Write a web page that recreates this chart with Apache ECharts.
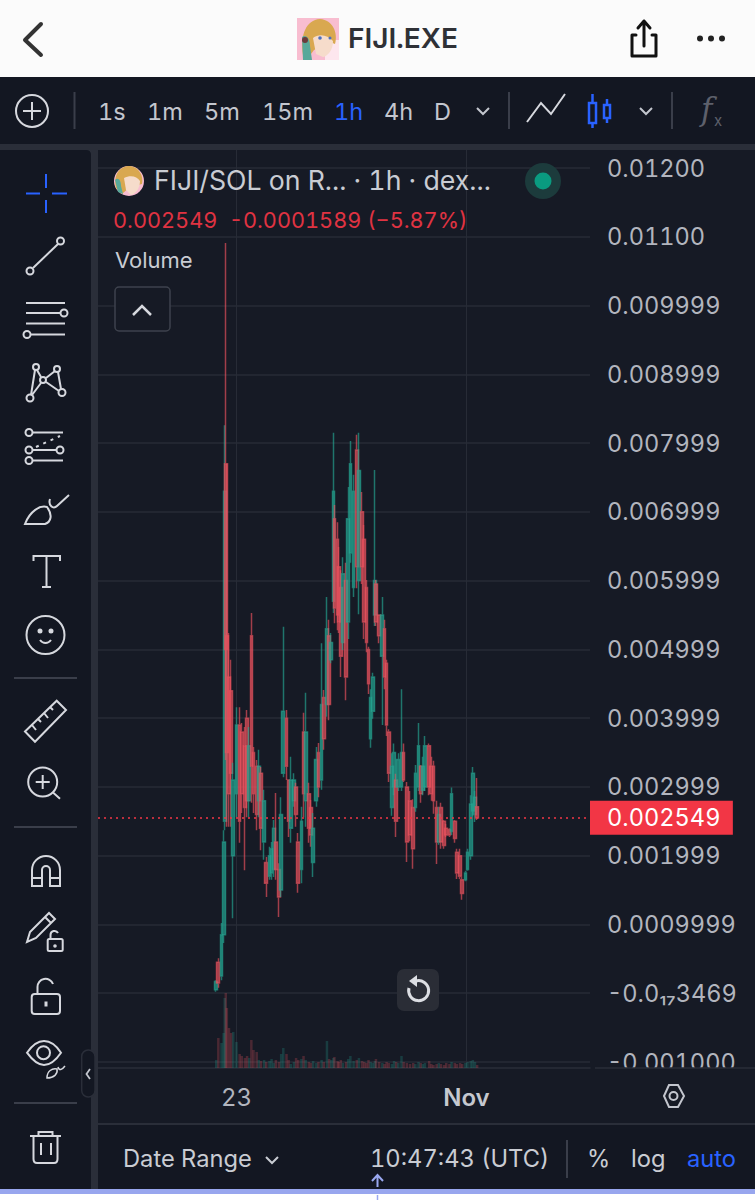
<!DOCTYPE html>
<html>
<head>
<meta charset="utf-8">
<title>FIJI/SOL</title>
<script src="https://cdn.jsdelivr.net/npm/echarts@6/dist/echarts.min.js"></script>
<style>
  html, body { margin: 0; padding: 0; background: #161a25; }
  #wrap { position: relative; width: 755px; height: 1200px; overflow: hidden; }
  #chart { position: absolute; left: 0; top: 0; width: 755px; height: 1200px; }
  #chrome { position: absolute; left: 0; top: 0; pointer-events: none; font-family: Inter, sans-serif; }
  text { font-variant-numeric: tabular-nums; font-feature-settings: "tnum"; }
</style>
</head>
<body>
<div id="wrap">
  <div id="chart"></div>
  <svg id="chrome" width="755" height="1200" viewBox="0 0 755 1200" fill="none">
    <!-- header -->
    <rect x="0" y="0" width="755" height="77" fill="#fbfbfb"/>
    <path d="M41 24 L25 40 L41 55" stroke="#333" stroke-width="4" stroke-linecap="round" stroke-linejoin="round"/>
    <rect x="297" y="18" width="42" height="42" fill="#f8bdd0"/>
    <rect x="325" y="40" width="14" height="20" fill="#fde6ee"/>
    <path d="M303 55 C300 35 306 20 320 19 C333 20 338 33 335 44 L330 42 L314 50 L308 58 Z" fill="#d9a850"/>
    <path d="M313 38 C319 33 328 35 333 41 C333 50 328 56 323 57 L316 54 Z" fill="#f6dccb"/>
    <circle cx="320" cy="38" r="1.800" fill="#4a6fc0"/><circle cx="330" cy="38" r="1.500" fill="#4a6fc0"/>
    <path d="M302 37 C306 34 310 38 310 46 L312 60 L303 60 Z" fill="#58a89a"/>
    <circle cx="305" cy="40" r="3" fill="#6b3b3b"/>
    <text x="348" y="48" font-size="27" font-weight="600" fill="#2f3136" textLength="110" lengthAdjust="spacingAndGlyphs">FIJI.EXE</text>
    <path d="M636 35 L632 35 L632 56 L656 56 L656 35 L652 35 M644 46 L644 21 M638 28 L644 21 L650 28" stroke="#111" stroke-width="3" stroke-linecap="round" stroke-linejoin="round"/>
    <circle cx="700" cy="38.500" r="3" fill="#222"/><circle cx="711" cy="38.500" r="3" fill="#222"/><circle cx="722" cy="38.500" r="3" fill="#222"/>

    <!-- top toolbar -->
    <rect x="0" y="77" width="755" height="68" fill="#131722"/>
    <rect x="0" y="144" width="755" height="6" fill="#2a2e39"/>
    <circle cx="32" cy="111" r="16" stroke="#d6d8de" stroke-width="2"/>
    <path d="M32 102 V120 M23 111 H41" stroke="#d6d8de" stroke-width="2"/>
    <path d="M74.500 92 V129 M509 92 V129 M672 92 V129" stroke="#3a3e4a" stroke-width="2"/>
    <g font-size="23.500" fill="#c3c6ce">
      <text x="98" y="120">1s</text>
      <text x="147" y="120">1m</text>
      <text x="204" y="120">5m</text>
      <text x="262" y="120">15m</text>
      <text x="334" y="120" fill="#2962ff">1h</text>
      <text x="384" y="120">4h</text>
      <text x="434" y="120">D</text>
    </g>
    <path d="M477 108 L483 114 L489 108 M640 108 L646 114 L652 108" stroke="#c3c6ce" stroke-width="2"/>
    <path d="M527 122 L541 103 L551 114 L565 94" stroke="#d6d8de" stroke-width="2"/>
    <g stroke="#2962ff" stroke-width="2.500">
      <rect x="589" y="103" width="7" height="20"/><path d="M592.500 94 V103 M592.500 123 V128"/>
      <rect x="604" y="105" width="6" height="13"/><path d="M607 99 V105 M607 118 V123"/>
    </g>
    <text x="701" y="120" font-size="31" font-style="italic" fill="#5d606b" font-family="'DejaVu Serif', serif">f</text>
    <text x="714" y="126" font-size="15" fill="#5d606b">x</text>

    <!-- left toolbar -->
    <rect x="0" y="150" width="98" height="1050" fill="#2a2e39"/>
    <path d="M0 150 H86 Q91 150 91 155 V1200 H0 Z" fill="#131722"/>
    <path d="M46 174 V188 M46 200 V213 M26 193.500 H40 M52 193.500 H67" stroke="#2962ff" stroke-width="2"/>
    <g stroke="#d6d8de" stroke-width="2">
      <circle cx="60.500" cy="241" r="3.500"/><circle cx="30" cy="271" r="3.500"/><path d="M33 268 L58 244"/>

      <path d="M26 303 H65 M26 313 H60 M26 323.500 H65 M31 334.500 H65"/><circle cx="64" cy="313" r="3.500"/><circle cx="27" cy="334.500" r="3.500"/>

      <circle cx="36" cy="367" r="3"/><circle cx="57" cy="369" r="3"/><circle cx="43" cy="380" r="3"/><circle cx="62" cy="392.500" r="3.500"/><circle cx="30" cy="398" r="3.500"/>
      <path d="M35 370 L31 395 M37 370 L41 377 M46 378 L55 371 M58 372 L61 389 M46 382 L59 391 M41 383 L32 395"/>

      <circle cx="29" cy="432.500" r="3.500"/><path d="M33 432.500 H63 M33 450 H56 M33 460.500 H63"/><circle cx="29" cy="450" r="3.500"/><circle cx="60" cy="450" r="3.500"/><circle cx="29" cy="460.500" r="3.500"/>
      <path d="M36 447 L60 436" stroke-dasharray="3 5"/>

      <path d="M25 524 C30 511 40 505 47 507 C53 515 51 522 45 524 Z M50 499 C48 505 53 510 57 506 L69 495"/>

      <path d="M33.500 561 V556 H60 V561 M46.500 556 V587 M42 587 H51"/>

      <circle cx="45.500" cy="635" r="19"/><circle cx="40" cy="631" r="1.500" fill="#d6d8de"/><circle cx="51" cy="631" r="1.500" fill="#d6d8de"/><path d="M40 640 C43 644 48 644 51 640"/>

      <path d="M14 678 H77 M14 827 H77 M14 1103 H77" stroke="#3a3e4a"/>

      <path d="M25 731.500 L56.700 700.700 L66 710 L35 741.700 Z M32 725 L36 730 M38 719 L41 722 M44 713 L48 718 M50 707 L53 710"/>

      <circle cx="42.700" cy="782" r="14.500"/><path d="M53 792.500 L60 798.700 M42.700 775 V789 M35.700 782 H49.700"/>

      <path d="M32 886 V870 A14 14 0 0 1 60 870 V886 H50 V870 A4 4 0 0 0 42 870 V886 Z M32 878 H42 M50 878 H60"/>

      <path d="M27 942 L30 932 L49 913 L55 919 L36 938 Z M45 917 L51 923"/>
      <rect x="47.700" y="939" width="15" height="12" rx="1.500"/><path d="M50.500 939 V935 A4 4 0 0 1 58 933"/><circle cx="55" cy="946" r="0.800" fill="#d6d8de"/>

      <rect x="31.700" y="994" width="28.300" height="20" rx="3"/><path d="M37.500 994 V987 A8 8 0 0 1 53 984"/><path d="M46 1001.500 V1006.500" stroke-width="3"/>

      <path d="M27 1052.700 C33 1044 38 1041 44 1041 C50 1041 56 1045 61 1052.700 C56 1060 50 1065 44 1065 C38 1065 33 1061 27 1052.700 Z"/><circle cx="43.500" cy="1052.700" r="6.500"/>
      <path d="M47 1078 C47 1071 52 1068 57 1069 C58 1074 54 1078 47 1078 Z M58 1067 C59 1071 62 1070 65 1066" stroke-width="1.500"/>

      <path d="M30 1136 H61 M38.500 1136 V1132 H52.500 V1136 M33.500 1136 V1159 Q33.500 1163 37 1163 H54 Q57.500 1163 57.500 1159 V1136 M41 1143 V1155 M51 1143 V1155"/>
    </g>
    <rect x="81.700" y="1050" width="13.300" height="47" rx="6.500" fill="#131722" stroke="#2a2e39" stroke-width="1.500"/>
    <path d="M90 1069 L86.500 1074 L90 1079" stroke="#c3c6ce" stroke-width="1.800"/>

    <!-- legend over the pane -->
    <circle cx="129" cy="181" r="15" fill="#f8bdd0"/>
    <path d="M116 188 C113 174 120 166 130 166 C139 167 144 176 142 184 L130 187 L122 194 Z" fill="#d9a850"/>
    <path d="M124 178 C130 175 137 176 140 181 C140 189 135 194 131 195 L126 190 Z" fill="#f6dccb"/>
    <path d="M115 180 C118 177 121 180 121 186 L123 194 L118 192 Z" fill="#58a89a"/>
    <text x="154" y="190" font-size="26.700" fill="#c9ccd3">FIJI/SOL on R... · 1h · dex...</text>
    <circle cx="543" cy="181" r="18" fill="#1c3b3c"/>
    <circle cx="543" cy="181" r="8.500" fill="#0a9b80"/>
    <text x="113" y="228" font-size="21.700" fill="#e03342" xml:space="preserve">0.002549  -0.0001589 (−5.87%)</text>
    <text x="115" y="268" font-size="22" fill="#c9ccd3">Volume</text>
    <rect x="115" y="287" width="55" height="44" rx="4" fill="#161a25" stroke="#3e424d" stroke-width="1.500"/>
    <path d="M133 315 L142 306 L151 315" stroke="#d6d8de" stroke-width="2.500"/>

    <!-- reset button -->
    <rect x="397" y="969" width="42" height="42" rx="7" fill="#2a2d36"/>
    <path d="M416 981 A10 10 0 1 1 409 988" stroke="#dcdee3" stroke-width="3"/>
    <path d="M417 975 L409 981 L417 987 Z" fill="#dcdee3"/>

    <!-- bottom -->
    <rect x="595" y="1068" width="160" height="56" fill="#161a25"/>
    <path d="M595 1068 H755" stroke="#2a2e39" stroke-width="1.500"/>
    <path d="M664 1096 L669 1085 H678 L684 1096 L678 1107 H669 Z" stroke="#c3c6ce" stroke-width="2"/>
    <circle cx="673.500" cy="1096" r="4" stroke="#c3c6ce" stroke-width="2"/>
    <rect x="98" y="1124" width="657" height="66" fill="#131722"/>
    <path d="M98 1124 H755" stroke="#2a2e39" stroke-width="2"/>
    <g font-size="23.700" fill="#c9ccd3">
      <text x="123" y="1167">Date Range</text>
      <text x="370" y="1167">10:47:43 (UTC)</text>
      <text x="587" y="1167">%</text>
      <text x="631" y="1167">log</text>
      <text x="687" y="1167" fill="#2962ff">auto</text>
    </g>
    <path d="M266 1157 L272 1163 L278 1157" stroke="#c9ccd3" stroke-width="2"/>
    <path d="M567 1140 V1178" stroke="#3a3e4a" stroke-width="2"/>
    <path d="M377.500 1187 V1176 M372 1181 L377.500 1175 L383 1181" stroke="#9aa8f0" stroke-width="2"/>
    <rect x="0" y="1189" width="755" height="11" fill="#fff"/>
    <rect x="0" y="1189" width="755" height="5" fill="#98a6ee"/>
    <path d="M377.500 1195 V1200" stroke="#9aa8f0" stroke-width="1.500"/>
  </svg>
</div>
<script>
// prices are in thousandths of SOL, hours are counted from 23 Oct 00:00
const hours = [-19,-17,-14,-12,-11,-10,-9,-7,-5,-3,
  0,3,5,8,10,12,14,16,19,21,
  23,26,28,31,33,35,37,40,42,44,
  47,49,51,54,56,58,61,63,65,68,
  70,72,75,77,80,82,85,87,89,91,
  92,95,96,98,100,103,105,107,110,113,
  115,118,120,122,124,126,128,130,131,134,
  137,139,141,143,146,148,150,152,155,157,
  160,163,166,168,171,173,175,177,181,183,
  185,188,190,192,195,197,200,202,205,207,
  210,212,215,217,220,222,224,226];
const opens = [0.05,0.45,0.25,0.85,2.5,7.7,5.2,4.6,4.4,2.0,
  2.9,3.9,3.8,3.6,4.0,2.8,5.2,3.5,3.3,2.8,
  3.2,2.2,1.9,1.7,1.75,1.8,2.2,1.8,1.5,3.2,
  4.0,3.1,2.4,2.8,3.0,2.2,1.8,3.8,2.8,2.9,
  2.7,1.9,2.8,3.5,3.1,4.3,4.2,5.2,4.85,5.7,
  6.9,6.6,6.2,5.9,5.1,6.0,5.4,6.4,5.9,7.9,
  6.0,7.0,6.6,5.9,5.0,3.7,4.1,5.5,5.95,5.5,
  4.9,5.3,4.8,3.8,2.7,3.0,3.1,3.0,3.0,3.5,
  3.0,2.8,2.7,2.7,3.0,3.3,2.95,3.0,3.6,3.3,
  3.3,2.7,2.2,2.7,2.5,2.4,2.38,2.35,2.5,2.05,
  2.0,1.65,1.65,1.8,2.0,2.65,2.6,2.71];
const closes = [0.17,0.15,0.85,2.2,7.3,5.0,3.5,2.9,3.2,3.1,
  3.9,2.5,2.9,2.7,2.8,3.6,3.3,2.9,2.6,3.3,
  2.4,2.8,1.6,2.0,2.1,2.4,1.8,1.4,2.6,4.1,
  3.3,2.5,3.1,3.1,2.6,1.6,2.5,2.9,3.8,2.4,
  2.3,2.4,3.4,3.0,4.2,3.7,5.3,4.2,5.1,7.3,
  5.6,5.5,5.4,4.9,6.1,4.6,6.9,7.7,7.3,6.2,
  7.6,6.2,5.4,5.1,4.5,4.3,4.6,6.0,5.4,5.2,
  5.5,4.6,3.9,3.2,3.3,3.5,2.5,3.4,3.5,3.1,
  2.2,2.3,2.1,3.2,3.6,2.9,3.3,3.6,3.0,2.9,
  2.8,2.2,2.6,2.2,2.15,2.3,2.3,2.9,2.25,1.75,
  1.7,1.45,1.75,2.05,2.75,3.2,2.85,2.549];
const lows = [0.02,0.08,0.19,0.73,2.37,3.39,2.42,2.42,2.42,1.09,
  2.56,2.19,2.62,1.79,2.56,2.56,2.77,2.62,2.37,2.56,
  2.08,1.94,1.40,1.65,1.65,1.69,1.65,1.11,1.40,3.14,
  3.10,2.27,2.19,2.71,2.42,1.46,1.60,2.56,2.42,2.19,
  2.13,1.69,2.71,2.85,2.96,3.54,4.02,3.97,4.80,5.53,
  5.38,5.28,5.24,4.60,4.99,4.26,5.15,6.26,5.76,5.89,
  5.51,5.95,5.15,4.96,4.35,3.57,3.99,5.34,5.34,5.09,
  3.90,4.42,3.74,3.07,2.58,2.88,2.27,2.94,2.94,3.07,
  1.91,2.21,1.81,2.64,2.94,2.77,2.88,2.94,2.88,2.80,
  2.61,1.88,2.16,2.10,2.10,2.27,2.27,2.30,2.19,1.66,
  1.66,1.36,1.63,1.78,1.94,2.58,2.49,2.52];
const highs = [0.19,0.51,1.02,2.37,8.26,10.91,7.70,5.24,4.85,3.35,
  4.16,4.16,3.93,3.87,4.12,3.87,5.53,3.58,3.39,3.54,
  3.29,2.96,1.98,2.13,2.20,2.52,2.91,1.89,2.85,5.33,
  4.12,3.10,3.44,3.20,3.06,2.33,2.71,4.08,4.37,3.06,
  2.81,2.62,3.58,3.64,5.09,4.41,5.76,5.43,5.24,8.15,
  7.10,6.85,6.49,6.15,6.34,6.26,7.36,8.03,7.54,8.12,
  8.15,7.29,6.81,6.01,5.04,4.42,4.66,7.61,6.01,5.51,
  5.76,5.43,4.85,3.84,3.49,3.63,3.19,3.49,4.42,3.63,
  3.07,2.94,2.82,3.32,3.93,3.32,3.44,3.74,3.63,3.44,
  3.38,2.80,2.71,2.77,2.52,2.46,2.40,2.99,2.52,2.10,
  2.10,1.69,1.78,2.10,2.88,3.29,2.94,3.13];
const volumes = [8,30,25,35,70,75,60,40,35,36,
  26,14,12,10,12,10,28,18,16,8,
  7,8,6,7,9,5,8,6,14,20,
  14,8,4,6,10,8,9,12,8,6,
  5,7,5,6,8,6,27,9,8,10,
  11,7,6,8,5,6,9,12,7,8,
  10,7,6,5,8,6,5,7,9,6,
  5,4,6,5,4,7,6,5,12,6,
  5,4,5,4,6,5,4,5,7,4,
  3,4,5,4,3,5,4,6,5,4,
  5,4,5,6,7,8,6,3];
const lastPrice = 2.549;
const dateTicks = [0, 216];
const dateLabels = ["{day|23}", "{month|Nov}"];
const priceTicks = ["-0.001000","-0.0₁₇3469","0.0009999","0.001999","0.002999","0.003999","0.004999","0.005999","0.006999","0.007999","0.008999","0.009999","0.01100","0.01200"];

const upColor = "#25a592";
const downColor = "#e9525e";

const candles = hours.map((h, i) => [h, opens[i], closes[i], lows[i], highs[i]]);
const volumeBars = hours.map((h, i) => ({
  value: [h, volumes[i]],
  itemStyle: { color: closes[i] >= opens[i] ? upColor : downColor, opacity: 0.25 },
}));

const chart = echarts.init(document.getElementById("chart"), null, { renderer: "svg" });
chart.setOption({
  animation: false,
  backgroundColor: "#161a25",
  textStyle: { fontFamily: "Inter, sans-serif" },
  grid: [
    { left: 98, right: 165, top: 168, height: 894 },
    { left: 98, right: 165, top: 150, height: 918 },
  ],
  xAxis: [
    { type: "value", gridIndex: 0, min: -130, max: 332, show: false, splitLine: { show: false } },
    {
      type: "value",
      gridIndex: 1,
      min: -130,
      max: 332,
      axisLine: { show: true, onZero: false, lineStyle: { color: "#2a2e39", width: 1.5 } },
      axisTick: { show: false, customValues: dateTicks },
      axisLabel: {
        customValues: dateTicks,
        margin: 17,
        fontSize: 24,
        color: "#b2b5be",
        formatter: (v) => dateLabels[dateTicks.indexOf(v)],
        rich: {
          day: { fontSize: 24, color: "#b2b5be" },
          month: { fontSize: 24, fontWeight: 600, color: "#c5c8cf" },
        },
      },
      splitLine: { show: true, lineStyle: { color: "#272b36", width: 1 } },
    },
  ],
  yAxis: [
    {
      type: "value",
      gridIndex: 0,
      position: "right",
      min: -1,
      max: 12,
      interval: 1,
      axisLine: { show: false },
      axisTick: { show: false },
      axisLabel: {
        margin: 17,
        fontSize: 23.6,
        color: "#b2b5be",
        align: "left",
        padding: [4, 0, 0, 0],
        formatter: (v, i) => priceTicks[i],
      },
      splitLine: { lineStyle: { color: "#272b36", width: 1.5 } },
    },
    { type: "value", gridIndex: 1, min: 0, max: 918, show: false, splitLine: { show: false } },
  ],
  series: [
    {
      type: "bar",
      name: "Volume",
      xAxisIndex: 1,
      yAxisIndex: 1,
      barWidth: 2.5,
      data: volumeBars,
    },
    {
      type: "candlestick",
      name: "FIJI/SOL",
      xAxisIndex: 0,
      yAxisIndex: 0,
      barWidth: 3.2,
      encode: { x: 0, y: [1, 2, 3, 4] },
      itemStyle: {
        color: upColor,
        color0: downColor,
        borderColor: upColor,
        borderColor0: downColor,
        borderWidth: 1.5,
        opacity: 0.66,
      },
      data: candles,
      markLine: {
        silent: true,
        symbol: "none",
        animation: false,
        data: [{ yAxis: lastPrice }],
        lineStyle: { color: "#f23645", type: [2, 4], width: 1.5, opacity: 1 },
        label: {
          position: "end",
          distance: 0,
          formatter: "0.002549",
          color: "#fff",
          fontSize: 23.6,
          backgroundColor: "#f23645",
          padding: [7, 17, 3, 17],
        },
      },
    },
  ],
});
</script>
</body>
</html>
